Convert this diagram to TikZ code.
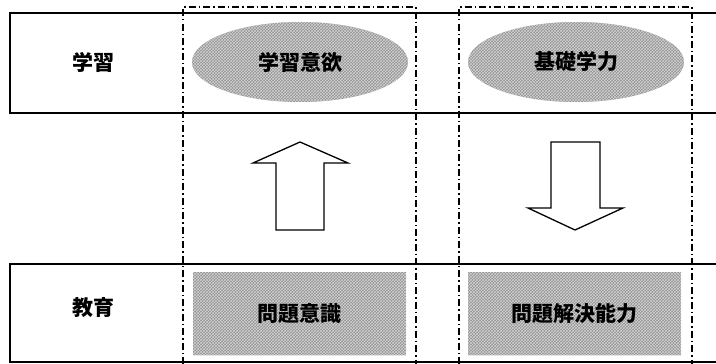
\documentclass[tikz,border=0pt]{standalone}
\usepackage{fontspec}
\newfontfamily\cjk{Noto Sans CJK JP}
\usetikzlibrary{patterns,shapes.geometric}
\begin{document}
\begin{tikzpicture}[x=1pt,y=-1pt,
  tbl/.style={line width=1.5pt,black},
  dashdot/.style={line width=1.4pt,dash pattern=on 7pt off 3pt on 1.5pt off 3pt},
  jfont/.style={font=\cjk\bfseries\fontsize{21}{25}\selectfont},
  lbl/.style={jfont,inner sep=0pt},
  shade/.style={fill=gray!85,postaction={pattern=crosshatch,pattern color=gray!35}},
  oval/.style={shade,ellipse,minimum width=216pt,minimum height=80pt,inner sep=0pt,jfont},
  cell/.style={shade,rectangle,minimum width=213pt,minimum height=83pt,inner sep=0pt,jfont},
  blockarrow/.style={line width=1.3pt,fill=white}]
\useasboundingbox (0,0) rectangle (716,364);
% table lines
\draw[tbl] (716,13) -- (10,13) -- (10,113) -- (716,113);
\draw[tbl] (716,264) -- (10,264) -- (10,362) -- (716,362);
% labels
\node[lbl] (study) at (93,62) {学習};
\node[lbl] (edu) at (93,308) {教育};
% ovals and cells
\node[oval] (motiv) at (300,62) {学習意欲};
\node[oval] (basic) at (576,62) {基礎学力};
\node[cell] (aware) at (299.5,313.5) {問題意識};
\node[cell] (solve) at (574.5,313.5) {問題解決能力};
% dash-dot frames
\draw[dashdot] (183,364) -- (183,7) -- (416,7) -- (416,364);
\draw[dashdot] (459,364) -- (459,7) -- (692,7) -- (692,364);
% block arrows
\draw[blockarrow] (300,142) -- (348,163) -- (324,163) -- (324,230) -- (276,230) -- (276,163) -- (253,163) -- cycle;
\draw[blockarrow] (575,230) -- (623,208) -- (600,208) -- (600,142) -- (551,142) -- (551,208) -- (528,208) -- cycle;
\end{tikzpicture}
\end{document}
